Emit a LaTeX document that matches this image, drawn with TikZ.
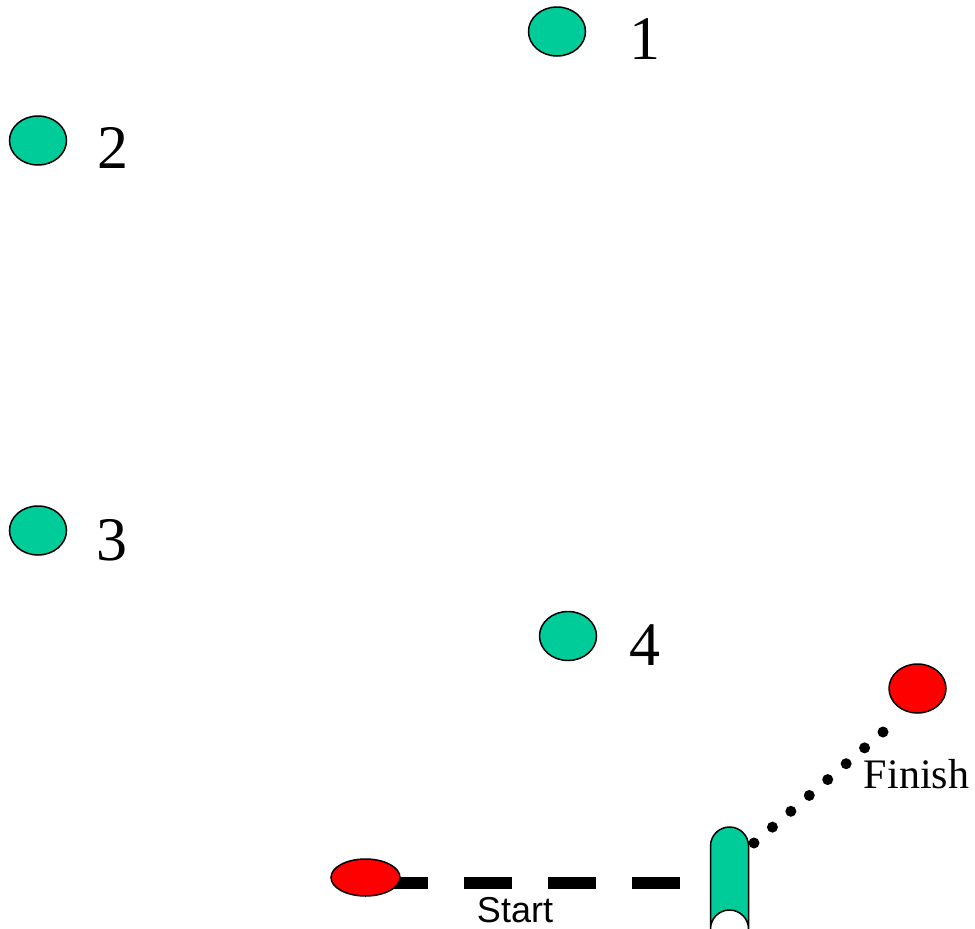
\documentclass[tikz,border=0pt]{standalone}
\usepackage{fontspec}
\setmainfont{Liberation Serif}
\newfontfamily\arialfont{Liberation Sans}
\usetikzlibrary{shapes.geometric,calc}
\definecolor{seagreen}{RGB}{0,204,153}
\definecolor{redmark}{RGB}{255,0,0}
\begin{document}
\begin{tikzpicture}[x=1pt,y=-1pt,
  conebox/.style={ellipse,draw=black,line width=1.5pt,fill=seagreen,inner sep=0pt,minimum width=57pt,minimum height=49pt},
  startbox/.style={ellipse,draw=black,line width=1.5pt,fill=redmark,inner sep=0pt},
  numlabel/.style={font=\fontsize{62}{70}\selectfont,anchor=base,inner sep=0pt},
  dashline/.style={line width=12pt,dash pattern=on 48pt off 36pt},
  dotmark/.style={fill=black}]
\useasboundingbox (0,0) rectangle (975,929);
% dashed start line (drawn under the start marker)
\coordinate (dashA) at (380,883);
\coordinate (dashB) at (680,883);
\draw[dashline] (dashA) -- (dashB);
% cones
\node[conebox] (c1) at (557,31.5) {};
\node[conebox] (c2) at (38,140.5) {};
\node[conebox] (c3) at (38,530.5) {};
\node[conebox] (c4) at (568,636) {};
\node[numlabel] (l1) at (645,59) {1};
\node[numlabel] (l2) at (113,168) {2};
\node[numlabel] (l3) at (112,560) {3};
\node[numlabel] (l4) at (645,665) {4};
% start and finish markers
\node[startbox,minimum width=69pt,minimum height=37pt] (start) at (365.5,877.5) {};
\node[startbox,minimum width=57pt,minimum height=49pt] (finish) at (917.5,688.5) {};
% gate (pill)
\draw[line width=1.5pt,fill=seagreen] (710.5,929) coordinate (gateBL) -- (710.5,846)
  arc[start angle=180,end angle=360,radius=19] -- (748.5,929)
  arc[start angle=0,end angle=-180,radius=19] -- cycle;
\coordinate (gate) at (729.5,870);
% dotted finish line
\coordinate (dotA) at (754,843);
\coordinate (dotB) at (883,732);
\foreach \i in {0,...,7} \fill[dotmark] ($(dotA)!\i/7!(dotB)$) circle (5.5);
% labels
\node[font=\fontsize{42}{48}\selectfont,anchor=base,inner sep=0pt] (finlbl) at (916.5,788) {Finish};
\node[font=\arialfont\fontsize{36}{42}\selectfont,anchor=base,inner sep=0pt] (stlbl) at (515,922) {Start};
\end{tikzpicture}
\end{document}
